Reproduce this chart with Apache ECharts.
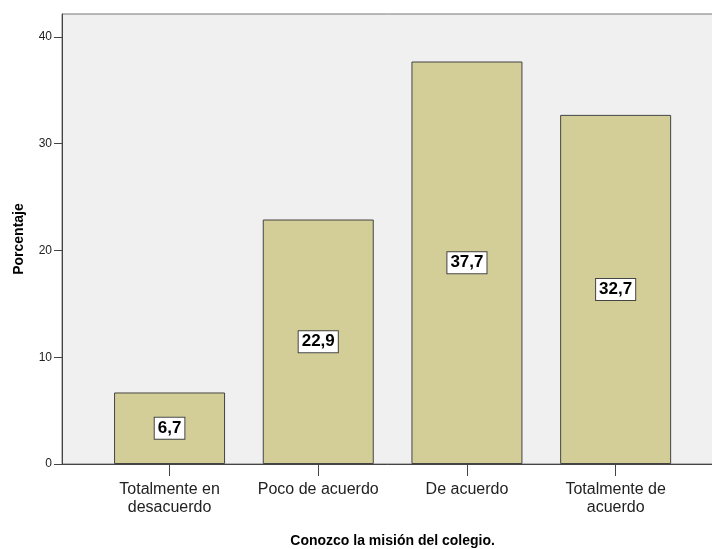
<!DOCTYPE html>
<html><head><meta charset="utf-8">
<script src="https://cdn.jsdelivr.net/npm/echarts@6/dist/echarts.min.js"></script>
<style>html,body{margin:0;padding:0;background:#fff}#c{width:712px;height:549px}</style>
</head><body><div id="c"></div>
<script>
const categories = ['Totalmente en\ndesacuerdo', 'Poco de acuerdo', 'De acuerdo', 'Totalmente de\nacuerdo'];
const values = [6.7, 22.9, 37.7, 32.7];
const yTicks = [0, 10, 20, 30, 40];
const xTitle = 'Conozco la misión del colegio.';
const yTitle = 'Porcentaje';

const chart = echarts.init(document.getElementById('c'), null, {renderer: 'canvas'});
const YMAX = 42.15;
const font = 'Arial, "Liberation Sans", sans-serif';
chart.setOption({
  animation: false,
  grid: [
    {left: 62, top: 14, right: -2, bottom: 85, show: true, backgroundColor: '#F0F0F0', borderColor: '#777', borderWidth: 1, outerBoundsMode: 'none', containLabel: false},
    {left: 95.2, top: 14, right: 22, bottom: 85, outerBoundsMode: 'none', containLabel: false}
  ],
  xAxis: [
    {gridIndex: 0, type: 'value', min: 0, max: 1, axisLine: {show: true, onZero: false, lineStyle: {color: '#444', width: 1}}, axisTick: {show: false}, axisLabel: {show: false}, splitLine: {show: false}},
    {gridIndex: 1, type: 'category', data: categories, axisLine: {show: false},
     axisTick: {show: true, alignWithLabel: true, length: 12, lineStyle: {color: '#444'}},
     axisLabel: {fontFamily: font, fontSize: 16, color: '#222', lineHeight: 18, margin: 17, interval: 0},
     name: xTitle, nameLocation: 'middle', nameGap: 70,
     nameTextStyle: {fontFamily: font, fontSize: 14, fontWeight: 'bold', color: '#000'}}
  ],
  yAxis: [
    {gridIndex: 0, type: 'value', min: 0, max: YMAX, interval: 10,
     axisLine: {show: true, lineStyle: {color: '#444'}},
     axisTick: {show: true, length: 8, lineStyle: {color: '#444'}, customValues: yTicks},
     axisLabel: {fontFamily: font, fontSize: 12, color: '#222', margin: 10, customValues: yTicks,
       formatter: v => String(v)},
     splitLine: {show: false},
     name: yTitle, nameLocation: 'middle', nameGap: 36,
     nameTextStyle: {fontFamily: font, fontSize: 14, fontWeight: 'bold', color: '#000'}},
    {gridIndex: 1, type: 'value', min: 0, max: YMAX, show: false, splitLine: {show: false}}
  ],
  series: [{
    type: 'bar', xAxisIndex: 1, yAxisIndex: 1, data: values, barWidth: 111,
    itemStyle: {color: '#D3CE97', borderColor: '#444', borderWidth: 1},
    label: {show: true, position: 'inside', fontFamily: font, fontSize: 17, fontWeight: 'bold', color: '#000',
      backgroundColor: '#fff', borderColor: '#444', borderWidth: 1, padding: [3, 3, 1, 3],
      formatter: p => p.value.toFixed(1).replace('.', ',')}
  }]
});
</script></body></html>
